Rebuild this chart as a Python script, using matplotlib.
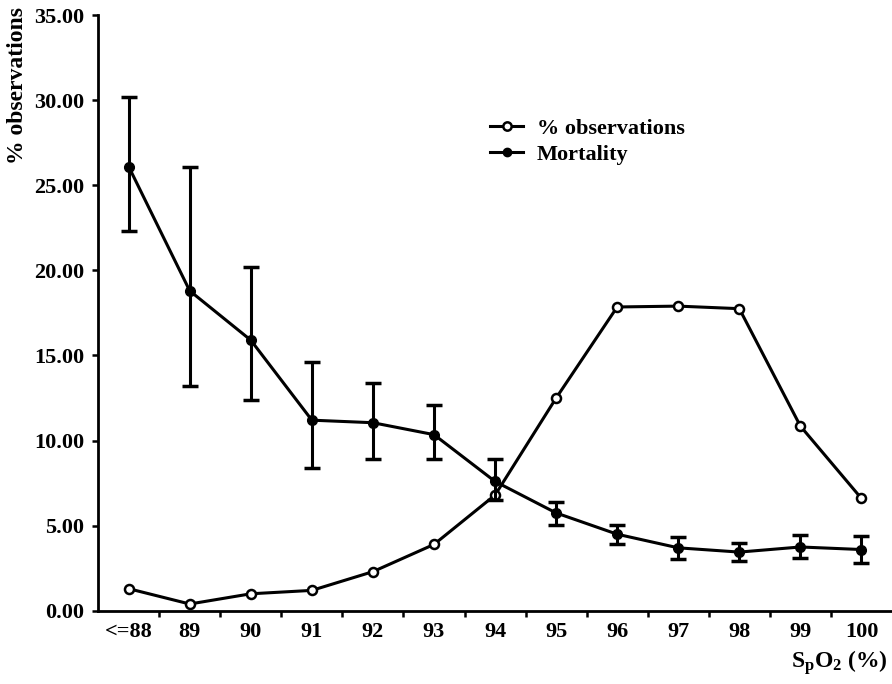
import matplotlib.pyplot as plt
from matplotlib.lines import Line2D

plt.rcParams["font.family"] = "Liberation Serif"
plt.rcParams["font.weight"] = "bold"
plt.rcParams["mathtext.fontset"] = "custom"
plt.rcParams["mathtext.rm"] = "Liberation Serif:bold"
plt.rcParams["mathtext.it"] = "Liberation Serif:bold"
plt.rcParams["mathtext.bf"] = "Liberation Serif:bold"

# SpO2 categories
categories = ["<=88", "89", "90", "91", "92", "93", "94", "95", "96", "97", "98", "99", "100"]

# % of observations per category
observations = [1.3, 0.4, 1.0, 1.2, 2.3, 3.9, 6.8, 12.5, 17.85, 17.9, 17.75, 10.85, 6.6]

# mortality and its error bar bounds
mortality = [26.1, 18.8, 15.9, 11.2, 11.05, 10.35, 7.6, 5.75, 4.5, 3.7, 3.45, 3.75, 3.6]
mort_upper = [30.2, 26.1, 20.2, 14.6, 13.4, 12.1, 8.9, 6.4, 5.05, 4.35, 4.0, 4.45, 4.4]
mort_lower = [22.3, 13.2, 12.4, 8.4, 8.9, 8.9, 6.5, 5.05, 3.95, 3.05, 2.95, 3.1, 2.8]

x = list(range(len(categories)))
err_low = [m - lo for m, lo in zip(mortality, mort_lower)]
err_high = [hi - m for m, hi in zip(mortality, mort_upper)]

fig = plt.figure(figsize=(8.92, 6.84), dpi=100)
ax = fig.add_axes([0.11, 0.107, 0.89, 0.871])

ax.plot(x, observations, color="black", lw=2.2, marker="o", ms=6.5,
        mfc="white", mec="black", mew=1.8, zorder=3)
ax.errorbar(x, mortality, yerr=[err_low, err_high], color="black", lw=2.2,
            marker="o", ms=7, elinewidth=2.2, capsize=6, capthick=2.5, zorder=4)

ax.set_xlim(-0.5, 12.5)
ax.set_ylim(0, 35)
ax.set_yticks([0, 5, 10, 15, 20, 25, 30, 35])
ax.set_yticklabels([f"{v:.2f}" for v in [0, 5, 10, 15, 20, 25, 30, 35]])
ax.set_xticks(x)
ax.set_xticklabels(categories)
ax.set_xticks([i + 0.5 for i in range(12)], minor=True)
ax.tick_params(axis="x", which="major", length=0, pad=8, labelsize=16)
ax.tick_params(axis="x", which="minor", length=4, width=1.8, direction="out")
ax.tick_params(axis="y", length=4, width=1.8, direction="out", pad=6, labelsize=16)

for s in ["top", "right"]:
    ax.spines[s].set_visible(False)
for s in ["left", "bottom"]:
    ax.spines[s].set_linewidth(2)

fig.text(0.02, 0.99, "% observations", rotation=90, ha="center", va="top",
         fontsize=17, fontweight="bold")
fig.text(0.995, 0.01, r"$\mathrm{S_pO_2}$ (%)", ha="right", va="bottom",
         fontsize=17, fontweight="bold")

handles = [
    Line2D([], [], color="black", lw=2.2, marker="o", ms=6, mfc="white", mew=1.8),
    Line2D([], [], color="black", lw=2.2, marker="o", ms=6),
]
ax.legend(handles, ["% observations", "Mortality"], loc="upper left",
          bbox_to_anchor=(0.537, 0.843), bbox_transform=fig.transFigure,
          frameon=False, fontsize=16, handlelength=1.5, handletextpad=0.6,
          labelspacing=0.25, borderpad=0)

fig.savefig("out.png", dpi=100)
